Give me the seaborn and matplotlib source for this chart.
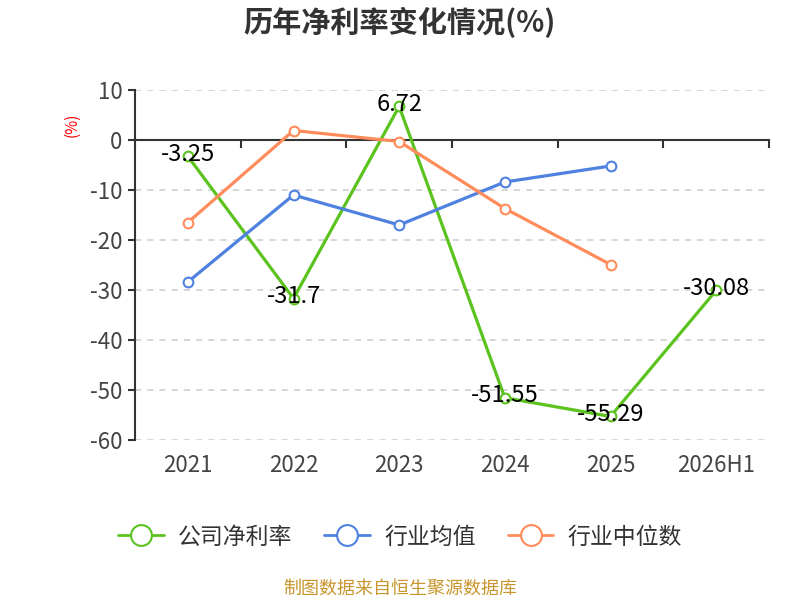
import numpy as np
import pandas as pd
import matplotlib
matplotlib.use("Agg")
import matplotlib.pyplot as plt
import seaborn as sns
from matplotlib.lines import Line2D

sns.set_style("white")
plt.rcParams['font.family'] = ['Noto Sans CJK SC', 'DejaVu Sans']
plt.rcParams['axes.unicode_minus'] = False

# data
years = ['2021', '2022', '2023', '2024', '2025', '2026H1']
company = [-3.25, -31.7, 6.72, -51.55, -55.29, -30.08]
industry_avg = [-28.4, -11.0, -17.0, -8.4, -5.2, np.nan]
industry_median = [-16.5, 1.9, -0.3, -13.7, -24.9, np.nan]
series_names = ['公司净利率', '行业均值', '行业中位数']
colors = ['#5BC21E', '#4F81E0', '#FF8C5A']
yticks = [10, 0, -10, -20, -30, -40, -50, -60]

df = pd.DataFrame({
    'year': years * 3,
    'value': company + industry_avg + industry_median,
    'series': [s for s in series_names for _ in years],
})

fig = plt.figure(figsize=(8, 6), dpi=100)
ax = fig.add_axes([135 / 800, 1 - 440 / 600, (769 - 135) / 800, 350 / 600])

for name, col in zip(series_names, colors):
    sub = df[df['series'] == name].dropna()
    sns.lineplot(data=sub, x='year', y='value', color=col, marker='o', markersize=7,
                 markerfacecolor='white', markeredgecolor=col, markeredgewidth=1.5,
                 linewidth=2.3, sort=False, legend=False, ax=ax, zorder=3)

ymin, ymax = -60, 10
ax.set_ylim(ymin, ymax)
ax.set_xlim(-0.5, len(years) - 0.5)
ax.set_yticks(yticks)
ax.set_yticklabels([str(t) for t in yticks], fontsize=16, color='#444444')
ax.tick_params(axis='y', left=True, length=5, width=1.5, color='#333333', direction='out', pad=4)
ax.set_xlabel('')
ax.set_ylabel('')

# zero axis line with ticks on the category boundaries
ax.spines['bottom'].set_position(('data', 0))
ax.spines['bottom'].set_color('#333333')
ax.spines['bottom'].set_linewidth(1.5)
ax.set_xticks(np.arange(-0.5, len(years), 1.0))
ax.set_xticklabels([])
ax.tick_params(axis='x', bottom=True, length=6, width=1.5, color='#333333', direction='out')

# category labels along the bottom of the plot
lab = ax.secondary_xaxis(0)
lab.set_xticks(range(len(years)))
lab.set_xticklabels(years, fontsize=16, color='#444444')
lab.tick_params(length=0, pad=10)
lab.spines['bottom'].set_visible(False)

for t in yticks:
    if t != 0:
        ax.axhline(t, color='#cccccc', linestyle=(0, (4, 4)), linewidth=1.1, zorder=0)

for side in ['top', 'right']:
    ax.spines[side].set_visible(False)
ax.spines['left'].set_color('#333333')
ax.spines['left'].set_linewidth(1.5)

for i, v in enumerate(company):
    ax.text(i, v + 0.4, f'{v:g}', ha='center', va='center', fontsize=17, color='black', zorder=5)

fig.text(72 / 800, 1 - 125 / 600, '(%)', rotation=90, color='red', fontsize=11,
         ha='center', va='center')

fig.suptitle('历年净利率变化情况(%)', x=0.5, y=1 - 22 / 600, fontsize=21,
             fontweight='bold', color='#333333', va='center')

handles = [Line2D([0], [0], color=c, linewidth=2, marker='o', markersize=15,
                  markerfacecolor='white', markeredgewidth=1.5) for c in colors]
fig.legend(handles, series_names, loc='center', bbox_to_anchor=(0.5, 1 - 537 / 600),
           ncol=3, frameon=False, fontsize=16.5, handlelength=2.0, columnspacing=1.4,
           handletextpad=0.6, labelcolor='#333333')

fig.text(0.5, 1 - 589 / 600, '制图数据来自恒生聚源数据库', ha='center', va='center',
         fontsize=13, color='#C8962D')

fig.savefig('out.png', dpi=100)
